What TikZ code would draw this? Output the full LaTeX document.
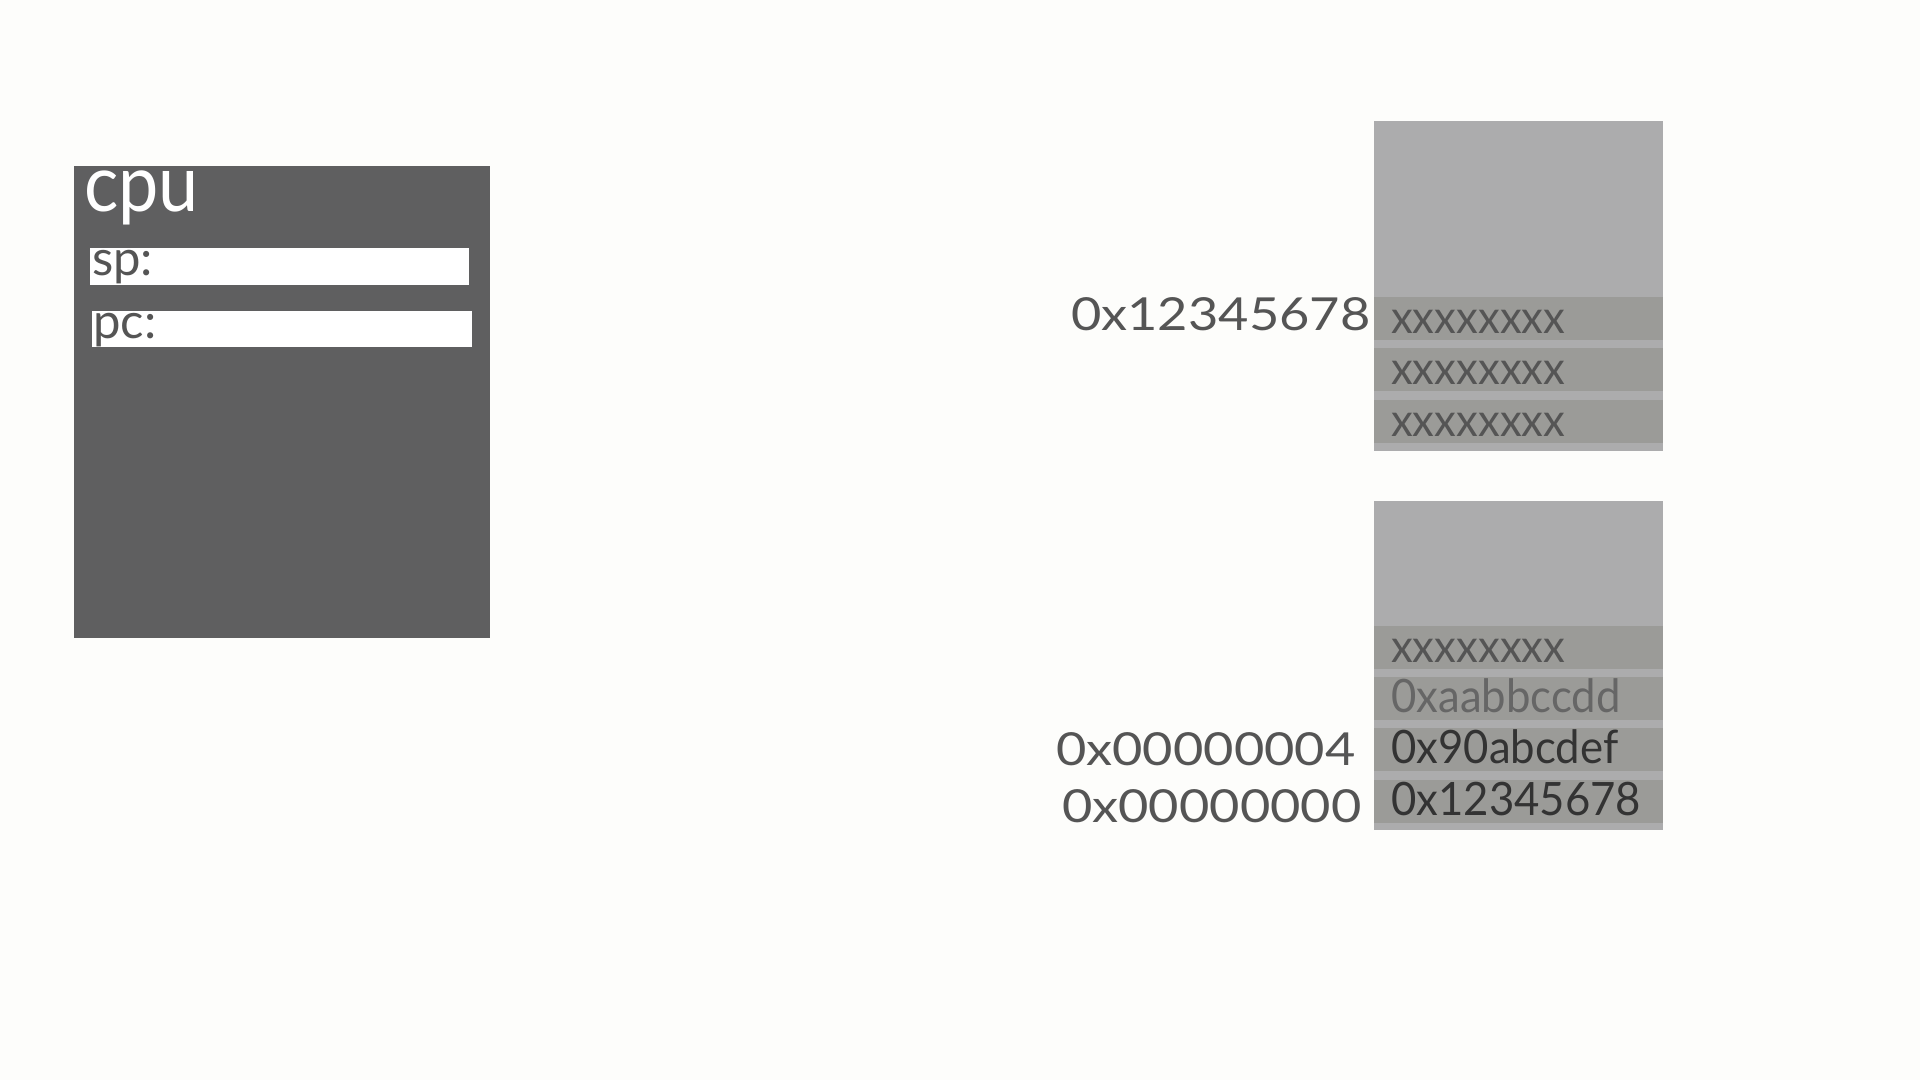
\documentclass[tikz,border=0pt]{standalone}
\usepackage{fontspec}
\setmainfont{Lato}
\newfontfamily\cpufont[FakeStretch=0.91]{Lato}
\newfontfamily\cellfont[FakeStretch=0.95]{Lato}
\newfontfamily\addrfont[FakeStretch=1.15]{Lato}
\usetikzlibrary{positioning}

\definecolor{paper}{HTML}{FDFDFB}
\definecolor{cpugray}{HTML}{5F5F60}
\definecolor{blockgray}{HTML}{ACACAD}
\definecolor{rowgray}{HTML}{9B9B98}
\definecolor{inkgray}{HTML}{555555}
\definecolor{inkdark}{HTML}{333333}
\definecolor{inklight}{HTML}{666666}

\tikzset{
  cpubox/.style={fill=cpugray, inner sep=0pt, anchor=north west},
  regbar/.style={fill=white, inner sep=0pt, anchor=north west},
  memblock/.style={fill=blockgray, inner sep=0pt, anchor=north west,
    minimum width=289pt},
  memrow/.style={fill=rowgray, inner sep=0pt, anchor=north west,
    minimum width=289pt, minimum height=43pt},
  cell/.style={inner sep=0pt, anchor=base west,
    font=\cellfont\fontsize{46}{46}\selectfont},
  addr/.style={inner sep=0pt, anchor=base west, text=inkgray,
    font=\addrfont\fontsize{45.5}{46}\selectfont}
}

\begin{document}
\begin{tikzpicture}[x=1pt, y=-1pt]

  \fill[paper] (0,0) rectangle (1920,1080);
  \useasboundingbox (0,0) rectangle (1920,1080);

  % Define nodes
  \node[cpubox, minimum width=416pt, minimum height=472pt] (cpu) at (74,166) {};
  \node[inner sep=0pt, anchor=base west, text=white,
    font=\cpufont\fontsize{79}{79}\selectfont] (cpulabel) at (84,211) {cpu};
  \node[regbar, minimum width=379pt, minimum height=37pt] (sp) at (90,248) {};
  \node[inner sep=0pt, anchor=base west, text=inkgray,
    font=\fontsize{49}{49}\selectfont] (splabel) at (92,275) {sp:};
  \node[regbar, minimum width=380pt, minimum height=36pt] (pc) at (92,311) {};
  \node[inner sep=0pt, anchor=base west, text=inkgray,
    font=\fontsize{49}{49}\selectfont] (pclabel) at (93,338) {pc:};

  % upper memory block
  \node[memblock, minimum height=330pt] (stack) at (1374,121) {};
  \node[memrow] (sa) at (1374,297) {};
  \node[memrow] (sb) at (1374,348) {};
  \node[memrow] (sc) at (1374,400) {};
  \node[cell, text=inkgray] (sav) at (1391,333) {xxxxxxxx};
  \node[cell, text=inkgray] (sbv) at (1391,384) {xxxxxxxx};
  \node[cell, text=inkgray] (scv) at (1391,436) {xxxxxxxx};
  \node[addr] (saddr) at (1071,330) {0x12345678};

  % lower memory block
  \node[memblock, minimum height=329pt] (mem) at (1374,501) {};
  \node[memrow] (ma) at (1374,626) {};
  \node[memrow] (mb) at (1374,677) {};
  \node[memrow] (mc) at (1374,728) {};
  \node[memrow] (md) at (1374,780) {};
  \node[cell, text=inkgray] (mav) at (1391,662) {xxxxxxxx};
  \node[cell, text=inklight] (mbv) at (1391,712) {0xaabbccdd};
  \node[cell, text=inkdark] (mcv) at (1391,763) {0x90abcdef};
  \node[cell, text=inkdark] (mdv) at (1391,815) {0x12345678};
  \node[addr] (maddr) at (1056,765) {0x00000004};
  \node[addr] (mzero) at (1062,822) {0x00000000};

\end{tikzpicture}
\end{document}
